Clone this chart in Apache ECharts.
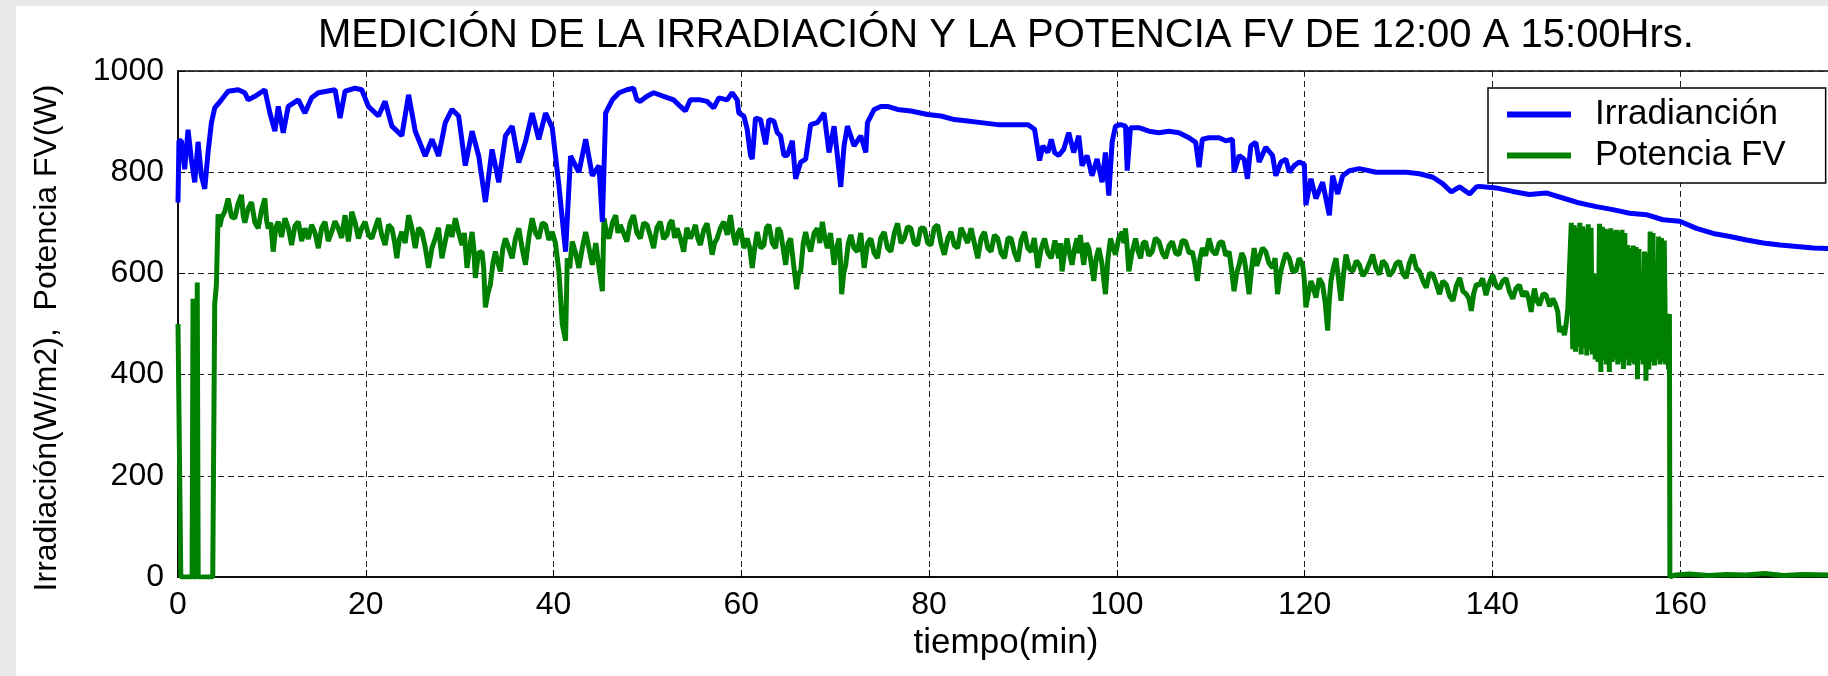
<!DOCTYPE html>
<html>
<head>
<meta charset="utf-8">
<title>Irradiación y Potencia FV</title>
<script src="https://cdn.jsdelivr.net/npm/echarts@6/dist/echarts.min.js"></script>
<style>
  html, body { margin: 0; padding: 0; background: #e8e8e8; overflow: hidden; }
  #chart { position: absolute; left: 16px; top: 6px; width: 1812px; height: 670px; background: #fff; }
</style>
</head>
<body>
<div id="chart"></div>
<script>
"use strict";
// [tiempo (min), W/m2]
const irradiacion = [
    [0, 740], [0.1, 862], [0.36, 862], [0.71, 806], [1.07, 884], [1.42, 826], [1.78, 780], [2.14, 860],
    [2.49, 793], [2.85, 767], [3.2, 839], [3.56, 898], [3.91, 927], [4.63, 943], [5.34, 960], [6.41, 963],
    [7.12, 957], [7.47, 943], [8.19, 950], [9.25, 963], [9.79, 917], [10.32, 881], [10.68, 930], [11.21, 878],
    [11.74, 930], [12.81, 943], [13.52, 917], [14.23, 947], [14.95, 957], [16.73, 963], [17.26, 907], [17.79, 960],
    [18.86, 966], [19.57, 963], [20.28, 930], [21.35, 911], [22.06, 940], [22.78, 891], [23.84, 872], [24.56, 953],
    [25.27, 881], [26.33, 832], [27.05, 865], [27.76, 832], [28.47, 898], [29.18, 924], [29.89, 911], [30.6, 813],
    [31.32, 881], [32.03, 832], [32.74, 741], [33.45, 845], [34.16, 780], [34.88, 872], [35.59, 891], [36.3, 819],
    [37.01, 860], [37.72, 917], [38.43, 865], [39.15, 917], [39.86, 888], [40.57, 774], [41.28, 643], [41.81, 832],
    [42.7, 800], [43.42, 865], [44.13, 793], [44.84, 813], [45.2, 702], [45.55, 917], [46.26, 943], [46.98, 957],
    [47.1, 960], [47.81, 963], [48.52, 966], [48.88, 943], [49.24, 940], [49.95, 950], [50.66, 957], [51.73, 950],
    [52.79, 943], [53.51, 930], [54.04, 921], [54.57, 943], [55.64, 943], [56.35, 940], [57.06, 927], [57.6, 947],
    [58.49, 943], [59.02, 957], [59.56, 943], [59.73, 917], [60.27, 911], [60.62, 885], [60.98, 833], [61.16, 826],
    [61.51, 907], [62.05, 904], [62.58, 855], [62.94, 904], [63.47, 901], [63.83, 878], [64.18, 872], [64.54, 833],
    [64.89, 833], [65.43, 862], [65.78, 787], [66.32, 820], [66.85, 826], [67.38, 894], [68.1, 898], [68.81, 917],
    [69.34, 839], [69.88, 891], [70.23, 833], [70.59, 771], [70.94, 852], [71.3, 891], [72.01, 852], [72.72, 872],
    [73.26, 839], [73.43, 898], [74.15, 924], [74.86, 930], [75.57, 930], [76.64, 924], [78.06, 921], [79.84, 914],
    [81.26, 911], [82.69, 904], [84.11, 901], [85.53, 898], [87.31, 894], [89.09, 894], [90.52, 894], [91.23, 885],
    [91.76, 823], [92.12, 852], [92.65, 839], [93.01, 865], [93.36, 839],
    [93.8, 833], [94.33, 845], [94.87, 878], [95.4, 839], [95.94, 872], [96.29, 813], [96.82, 833], [97.36, 793],
    [97.89, 826], [98.43, 780], [98.78, 839], [99.14, 754], [99.49, 859], [99.85, 891], [100.38, 894], [100.92, 891],
    [101.1, 803], [101.45, 888], [102.34, 888], [103.41, 881], [104.48, 878], [105.54, 881], [106.61, 878], [107.68, 868],
    [108.39, 859], [108.75, 810], [109.1, 865], [109.81, 868], [110.88, 868], [111.59, 862], [112.31, 865], [112.48, 800],
    [113.02, 833], [113.55, 826], [113.91, 787], [114.26, 852], [114.8, 859], [115.15, 820], [115.86, 849], [116.58, 833],
    [116.93, 793], [117.47, 820], [118.0, 826], [118.36, 800], [118.89, 813], [119.42, 820], [119.96, 816], [120.13, 735],
    [120.67, 787], [121.2, 748], [121.91, 780], [122.63, 715], [122.98, 793], [123.52, 757], [124.05, 793], [124.76, 803],
    [125.83, 807], [127.61, 800], [129.39, 800], [130.81, 800], [132.23, 797], [133.66, 790], [134.73, 777], [135.62, 761],
    [136.5, 771], [137.57, 757], [138.29, 771],
    [138.6, 772], [140.38, 769], [142.16, 762], [143.94, 756], [145.72, 759], [147.5, 749], [149.28, 739], [151.06, 732],
    [152.83, 726], [154.61, 719], [156.39, 716], [158.17, 706], [159.95, 703], [161.73, 689], [163.51, 679], [165.29, 673],
    [167.07, 666], [168.85, 660], [170.63, 656], [172.41, 653], [174.19, 650], [175.75, 649]
];
// [tiempo (min), W]
const potenciaFV = [
    [0, 500], [0.3, 0], [1.5, 0], [1.6, 550], [1.7, 0], [2.0, 0], [2.05, 582], [2.15, 0], [3.7, 0],
    [3.91, 539], [4.09, 578], [4.27, 717], [4.45, 692], [4.63, 709], [4.98, 722], [5.34, 748], [5.7, 712],
    [6.05, 709], [6.4, 738], [6.76, 755], [6.94, 715], [7.12, 700], [7.47, 728], [7.83, 741], [8.2, 700],
    [8.54, 689], [8.9, 725], [9.25, 748], [9.43, 705], [9.61, 689], [9.88, 700], [10.14, 643], [10.41, 690],
    [10.68, 702], [11.03, 672], [11.39, 709], [11.75, 690], [12.1, 656], [12.45, 694], [12.81, 702], [13.17, 664],
    [13.52, 689], [13.88, 668], [14.23, 696], [14.6, 680], [14.95, 650], [15.3, 690], [15.66, 702], [16.0, 664],
    [16.37, 682], [16.72, 703], [17.08, 689], [17.43, 670], [17.79, 715], [17.97, 690], [18.15, 663], [18.33, 690],
    [18.51, 722], [18.87, 700], [19.22, 669], [19.58, 690], [19.93, 702], [20.29, 676], [20.64, 669], [21.0, 690],
    [21.35, 709], [21.7, 676], [22.06, 656], [22.42, 696], [22.78, 689], [23.05, 664], [23.31, 630], [23.58, 668],
    [23.84, 682], [24.2, 660], [24.56, 715], [24.9, 690], [25.27, 650], [25.62, 690], [25.98, 682], [26.33, 652],
    [26.69, 611], [27.05, 650], [27.4, 669], [27.75, 690], [28.11, 630], [28.47, 664], [28.83, 696], [29.18, 672],
    [29.54, 709], [29.9, 680], [30.25, 656], [30.5, 680], [30.78, 611], [31.05, 650], [31.32, 682], [31.5, 650],
    [31.67, 591], [32.0, 640], [32.38, 643], [32.56, 610], [32.74, 533], [33.0, 560], [33.27, 578], [33.54, 620],
    [33.81, 643], [34.08, 620], [34.34, 604], [34.6, 650], [34.88, 669], [35.23, 650], [35.59, 630], [35.95, 670],
    [36.3, 689], [36.65, 650], [37.01, 617], [37.36, 670], [37.72, 709], [38.08, 680], [38.43, 669], [38.8, 700],
    [39.15, 696], [39.5, 666], [39.86, 682], [40.2, 660], [40.57, 604], [40.93, 500], [41.28, 467], [41.46, 630],
    [41.72, 610], [41.99, 663], [42.35, 640], [42.7, 611], [43.06, 650], [43.42, 682], [43.77, 650], [44.13, 617],
    [44.5, 660], [44.84, 611], [45.2, 565], [45.37, 709], [45.64, 680], [45.91, 669], [46.27, 700], [46.62, 715],
    [46.86, 680],
    [47.1, 696], [47.45, 680], [47.81, 663], [48.16, 700], [48.52, 715], [48.88, 680], [49.24, 669], [49.6, 700],
    [49.95, 696], [50.3, 675], [50.66, 650], [51.0, 690], [51.37, 702], [51.72, 668], [52.08, 676], [52.35, 698],
    [52.62, 705], [52.9, 670], [53.15, 689], [53.5, 670], [53.86, 643], [54.2, 690], [54.57, 669], [54.84, 680],
    [55.11, 696], [55.38, 668], [55.64, 656], [56.0, 686], [56.35, 699], [56.62, 670], [56.89, 637], [57.15, 660],
    [57.42, 669], [57.78, 690], [58.13, 702], [58.5, 676], [58.84, 715], [59.1, 680], [59.38, 656], [59.65, 680],
    [59.91, 689], [60.26, 650], [60.62, 669], [60.9, 650], [61.16, 611], [61.42, 650], [61.69, 682], [62.05, 650],
    [62.4, 656], [62.67, 690], [62.94, 696], [63.3, 660], [63.65, 650], [63.9, 690], [64.18, 682], [64.45, 650],
    [64.72, 617], [65.0, 660], [65.25, 669], [65.55, 620], [65.89, 569], [66.1, 600], [66.32, 604], [66.6, 660],
    [66.85, 682], [67.1, 660], [67.38, 643], [67.75, 680], [68.1, 689], [68.36, 660], [68.63, 702], [68.9, 670],
    [69.16, 650], [69.5, 680], [69.88, 617], [70.15, 650], [70.41, 669], [70.55, 630], [70.69, 559], [70.9, 600],
    [71.12, 617], [71.4, 660], [71.66, 676], [72.0, 650], [72.37, 643], [72.72, 680], [73.08, 611], [73.45, 660],
    [73.79, 669], [74.15, 640], [74.5, 630], [74.85, 670], [75.21, 682], [75.57, 650], [75.93, 643], [76.3, 680],
    [76.64, 699], [77.0, 660], [77.35, 669], [77.7, 692], [78.06, 689], [78.4, 660], [78.77, 656], [79.1, 690],
    [79.48, 689], [79.85, 660], [80.2, 656], [80.55, 690], [80.91, 696], [81.26, 660], [81.62, 637], [82.0, 670],
    [82.33, 682], [82.7, 655], [83.04, 650], [83.4, 690], [83.75, 676], [84.1, 660], [84.47, 689], [84.82, 660],
    [85.18, 630], [85.55, 670], [85.89, 682], [86.25, 650], [86.6, 643], [86.95, 676], [87.31, 669], [87.67, 640],
    [88.03, 630], [88.4, 670], [88.74, 669], [89.1, 640], [89.45, 624], [89.8, 665], [90.16, 682], [90.5, 650],
    [90.87, 643], [91.2, 670], [91.58, 611], [91.95, 650], [92.3, 669], [92.65, 640], [93.01, 630], [93.4, 665],
    [93.8, 630], [93.98, 660], [94.16, 604], [94.42, 640], [94.69, 669], [94.95, 640], [95.22, 617], [95.5, 650],
    [95.76, 669], [95.93, 640], [96.11, 676], [96.3, 640], [96.47, 617], [96.75, 660], [97.0, 650], [97.27, 620],
    [97.54, 585], [97.8, 630], [98.07, 650], [98.4, 620], [98.78, 559], [99.05, 630], [99.32, 669], [99.6, 650],
    [99.85, 637], [100.2, 670], [100.56, 682], [100.75, 660], [100.92, 689], [101.1, 650], [101.27, 604], [101.6, 640],
    [101.99, 669], [102.25, 645], [102.52, 630], [102.8, 660], [103.05, 663], [103.4, 635], [103.76, 643], [104.1, 670],
    [104.48, 663], [104.85, 640], [105.19, 630], [105.55, 655], [105.9, 663], [106.25, 640], [106.61, 637], [106.95, 665],
    [107.32, 663], [107.7, 640], [108.03, 643], [108.3, 620], [108.57, 585], [108.85, 630], [109.1, 650], [109.45, 635],
    [109.81, 669], [110.15, 645], [110.53, 637], [110.9, 660], [111.24, 663], [111.6, 635], [111.95, 643], [112.2, 610],
    [112.48, 565], [112.75, 600], [113.02, 617], [113.3, 640], [113.55, 630], [113.8, 600], [114.08, 559], [114.35, 610],
    [114.62, 650], [114.9, 615], [115.15, 630], [115.5, 650], [115.86, 643], [116.2, 620], [116.58, 611], [116.85, 630],
    [117.11, 559], [117.4, 600], [117.64, 617], [118.0, 640], [118.36, 630], [118.7, 605], [119.07, 604], [119.4, 630],
    [119.78, 617], [119.95, 590], [120.13, 533], [120.4, 560], [120.67, 585], [120.95, 570], [121.2, 552], [121.55, 590],
    [121.91, 578], [122.2, 540], [122.45, 487], [122.6, 540], [122.8, 585], [123.05, 610], [123.34, 630], [123.6, 590],
    [123.87, 546], [124.15, 600], [124.4, 637], [124.75, 610], [125.12, 604], [125.5, 625], [125.83, 617], [126.2, 595],
    [126.54, 604], [126.9, 620], [127.25, 637], [127.6, 610], [127.96, 598], [128.3, 625], [128.68, 617], [129.0, 595],
    [129.39, 604], [129.75, 620], [130.1, 624], [130.45, 600], [130.81, 591], [131.15, 620], [131.52, 637], [131.9, 610],
    [132.23, 604], [132.6, 585], [132.95, 572], [133.3, 600], [133.66, 598], [134.0, 580], [134.37, 559], [134.7, 585],
    [135.08, 578], [135.45, 555], [135.8, 546], [136.15, 575], [136.51, 591], [136.85, 565], [137.22, 559], [137.5, 550],
    [137.75, 526], [138.0, 560], [138.28, 578],
    [138.6, 577], [138.95, 590], [139.31, 557], [139.65, 580], [140.02, 597], [140.4, 575], [140.74, 570], [141.1, 585],
    [141.45, 590], [141.8, 565], [142.16, 550], [142.5, 570], [142.87, 577], [143.2, 555], [143.58, 564], [143.85, 550],
    [144.12, 524], [144.3, 550], [144.47, 570], [144.75, 545], [145.01, 537], [145.4, 560], [145.72, 557], [146.1, 535],
    [146.43, 550], [146.7, 540], [146.96, 524], [147.14, 484], [147.4, 495], [147.67, 478], [147.85, 500], [148.03, 530],
    [148.4, 700], [148.55, 450], [148.7, 695], [148.85, 445], [149.0, 690], [149.15, 455], [149.3, 700], [149.45, 440],
    [149.6, 693], [149.75, 452], [149.9, 688], [150.05, 438], [150.2, 697], [150.35, 448], [150.5, 690], [150.65, 440],
    [150.8, 600], [150.95, 430], [151.1, 585], [151.25, 425], [151.4, 698], [151.55, 405], [151.7, 692], [151.85, 428],
    [152.0, 688], [152.15, 420], [152.3, 686], [152.45, 405], [152.6, 689], [152.75, 425], [152.9, 684], [153.05, 430],
    [153.2, 686], [153.35, 420], [153.5, 683], [153.65, 425], [153.8, 686], [153.95, 411], [154.1, 680], [154.25, 430],
    [154.4, 656], [154.55, 418], [154.7, 650], [154.85, 425], [155.0, 655], [155.15, 420], [155.3, 652], [155.45, 391],
    [155.6, 648], [155.75, 430], [155.9, 560], [156.05, 420], [156.2, 643], [156.35, 388], [156.5, 640], [156.65, 410],
    [156.8, 683], [156.95, 425], [157.1, 680], [157.25, 418], [157.4, 560], [157.55, 430], [157.7, 673], [157.85, 420],
    [158.0, 670], [158.15, 425], [158.3, 665], [158.45, 420], [158.6, 520], [158.75, 410], [158.85, 520], [158.9, 0],
    [159.5, 4], [161, 6], [163, 3], [165, 5], [167, 4], [169, 7], [171, 3], [173, 5], [175.75, 4]
];
const xTicks = { min: 0, max: 180, interval: 20 };
const yTicks = { min: 0, max: 1000, interval: 200 };

const font = 'Liberation Sans, Arial, Helvetica, sans-serif';
const chart = echarts.init(document.getElementById('chart'));
const dashed = { color: '#222', width: 1, type: [6, 4] };

const option = {
    animation: false,
    title: {
        text: 'MEDICIÓN DE LA IRRADIACIÓN Y LA POTENCIA FV DE 12:00 A 15:00Hrs.',
        left: 302,
        top: 10,
        padding: 0,
        textStyle: { fontFamily: font, fontSize: 40, fontWeight: 'normal', color: '#000' }
    },
    grid: {
        left: 162,
        top: 65,
        width: 1690,
        height: 506,
        outerBoundsMode: 'none',
        containLabel: false,
        show: true,
        borderColor: '#000',
        borderWidth: 1.5,
        backgroundColor: '#fff'
    },
    legend: {
        data: ['Irradianción', 'Potencia FV'],
        orient: 'vertical',
        left: 1472,
        top: 82,
        padding: [9, 40, 10, 19],
        itemGap: 6,
        itemWidth: 64,
        itemHeight: 6,
        icon: 'rect',
        backgroundColor: '#fff',
        borderColor: '#000',
        borderWidth: 1.5,
        borderRadius: 0,
        textStyle: { fontFamily: font, fontSize: 35, lineHeight: 34, color: '#000', padding: [0, 0, 0, 19] }
    },
    xAxis: {
        type: 'value',
        min: xTicks.min,
        max: xTicks.max,
        interval: xTicks.interval,
        name: 'tiempo(min)',
        nameLocation: 'middle',
        nameGap: 49,
        nameTextStyle: { fontFamily: font, fontSize: 35, color: '#000', padding: [0, 34, 0, 0] },
        axisLine: { lineStyle: { color: '#000', width: 1.5 } },
        axisTick: { inside: true, length: 7, lineStyle: { color: '#000' } },
        axisLabel: { margin: 12, fontFamily: font, fontSize: 32, color: '#000' },
        splitLine: { show: true, lineStyle: dashed }
    },
    yAxis: {
        type: 'value',
        min: yTicks.min,
        max: yTicks.max,
        interval: yTicks.interval,
        name: 'Irradiación(W/m2),  Potencia FV(W)',
        nameLocation: 'middle',
        nameGap: 115,
        nameTextStyle: { fontFamily: font, fontSize: 32, color: '#000', padding: [0, 28, 0, 0] },
        axisLine: { show: true, lineStyle: { color: '#000', width: 1.5 } },
        axisTick: { show: true, inside: true, length: 7, lineStyle: { color: '#000' } },
        axisLabel: { margin: 14, fontFamily: font, fontSize: 32, color: '#000', formatter: v => String(v) },
        splitLine: { show: true, lineStyle: dashed }
    },
    series: [
        {
            name: 'Irradianción',
            type: 'line',
            data: irradiacion,
            showSymbol: false,
            z: 3,
            color: '#0000ff',
            lineStyle: { color: '#0000ff', width: 5 }
        },
        {
            name: 'Potencia FV',
            type: 'line',
            data: potenciaFV,
            showSymbol: false,
            z: 2,
            color: '#008000',
            lineStyle: { color: '#008000', width: 5 }
        }
    ]
};
chart.setOption(option);
</script>
</body>
</html>
